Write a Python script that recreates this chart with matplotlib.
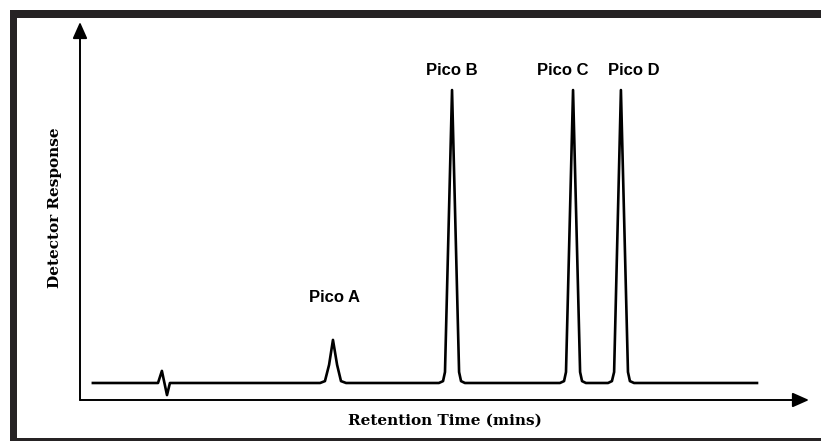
import matplotlib.pyplot as plt
from matplotlib.patches import Rectangle

# Chromatogram trace (retention time in min, detector response in arbitrary units)
time = [0.53, 3.21, 3.37, 3.58, 3.70,
        9.88, 10.08, 10.25, 10.41, 10.58, 10.74, 10.95,
        14.77, 14.94, 15.02, 15.31, 15.60, 15.68, 15.84,
        19.75, 19.92, 20.00, 20.29, 20.58, 20.66, 20.82,
        21.73, 21.89, 21.98, 22.26, 22.55, 22.63, 22.80,
        27.86]
response = [4.5, 4.5, 7.7, 1.3, 4.5,
            4.5, 5.0, 9.3, 15.9, 9.3, 5.0, 4.5,
            4.5, 5.0, 7.4, 82.0, 7.4, 5.0, 4.5,
            4.5, 5.0, 7.4, 82.0, 7.4, 5.0, 4.5,
            4.5, 5.0, 7.4, 82.0, 7.4, 5.0, 4.5,
            4.5]

# Peak labels and where they sit
peak_names = ['Pico A', 'Pico B', 'Pico C', 'Pico D']
label_time = [10.49, 15.31, 19.88, 22.80]
label_resp = [27.0, 87.3, 87.3, 87.3]

W, H = 821, 441
fig = plt.figure(figsize=(W / 100, H / 100), dpi=100)
fig.patch.set_facecolor('white')

# dark frame around the figure
frame = '#262324'
for x0, y0, w, h in [(10, 423, 811, 8), (10, 0, 7, 431), (10, 0, 811, 3)]:
    fig.add_artist(Rectangle((x0 / W, y0 / H), w / W, h / H,
                             transform=fig.transFigure, color=frame, lw=0))

ax = fig.add_axes([80 / W, 41 / H, 729 / W, 378 / H])
ax.set_xlim(0, 30)
ax.set_ylim(0, 100)
ax.axis('off')

ax.plot(time, response, color='black', lw=1.9, solid_joinstyle='round')

# axes drawn as arrows
arrow = dict(arrowstyle='-|>,head_length=0.9,head_width=0.4', color='black',
             lw=1.4, shrinkA=0, shrinkB=0, mutation_scale=11)
ax.annotate('', xy=(0, 1), xytext=(0, 0), xycoords='axes fraction',
            arrowprops=arrow, annotation_clip=False)
ax.annotate('', xy=(1, 0), xytext=(0, 0), xycoords='axes fraction',
            arrowprops=arrow, annotation_clip=False)

for name, t, r in zip(peak_names, label_time, label_resp):
    ax.text(t, r, name, ha='center', va='center', fontsize=12,
            fontweight='bold', family='Liberation Sans')

fig.text(445 / W, 1 - 421 / H, 'Retention Time (mins)', ha='center',
         va='center', fontsize=11, fontweight='bold', family='DejaVu Serif')
fig.text(55 / W, 1 - 208 / H, 'Detector Response', ha='center', va='center',
         rotation=90, fontsize=11, fontweight='bold', family='DejaVu Serif')

fig.savefig('out.png', dpi=100)
